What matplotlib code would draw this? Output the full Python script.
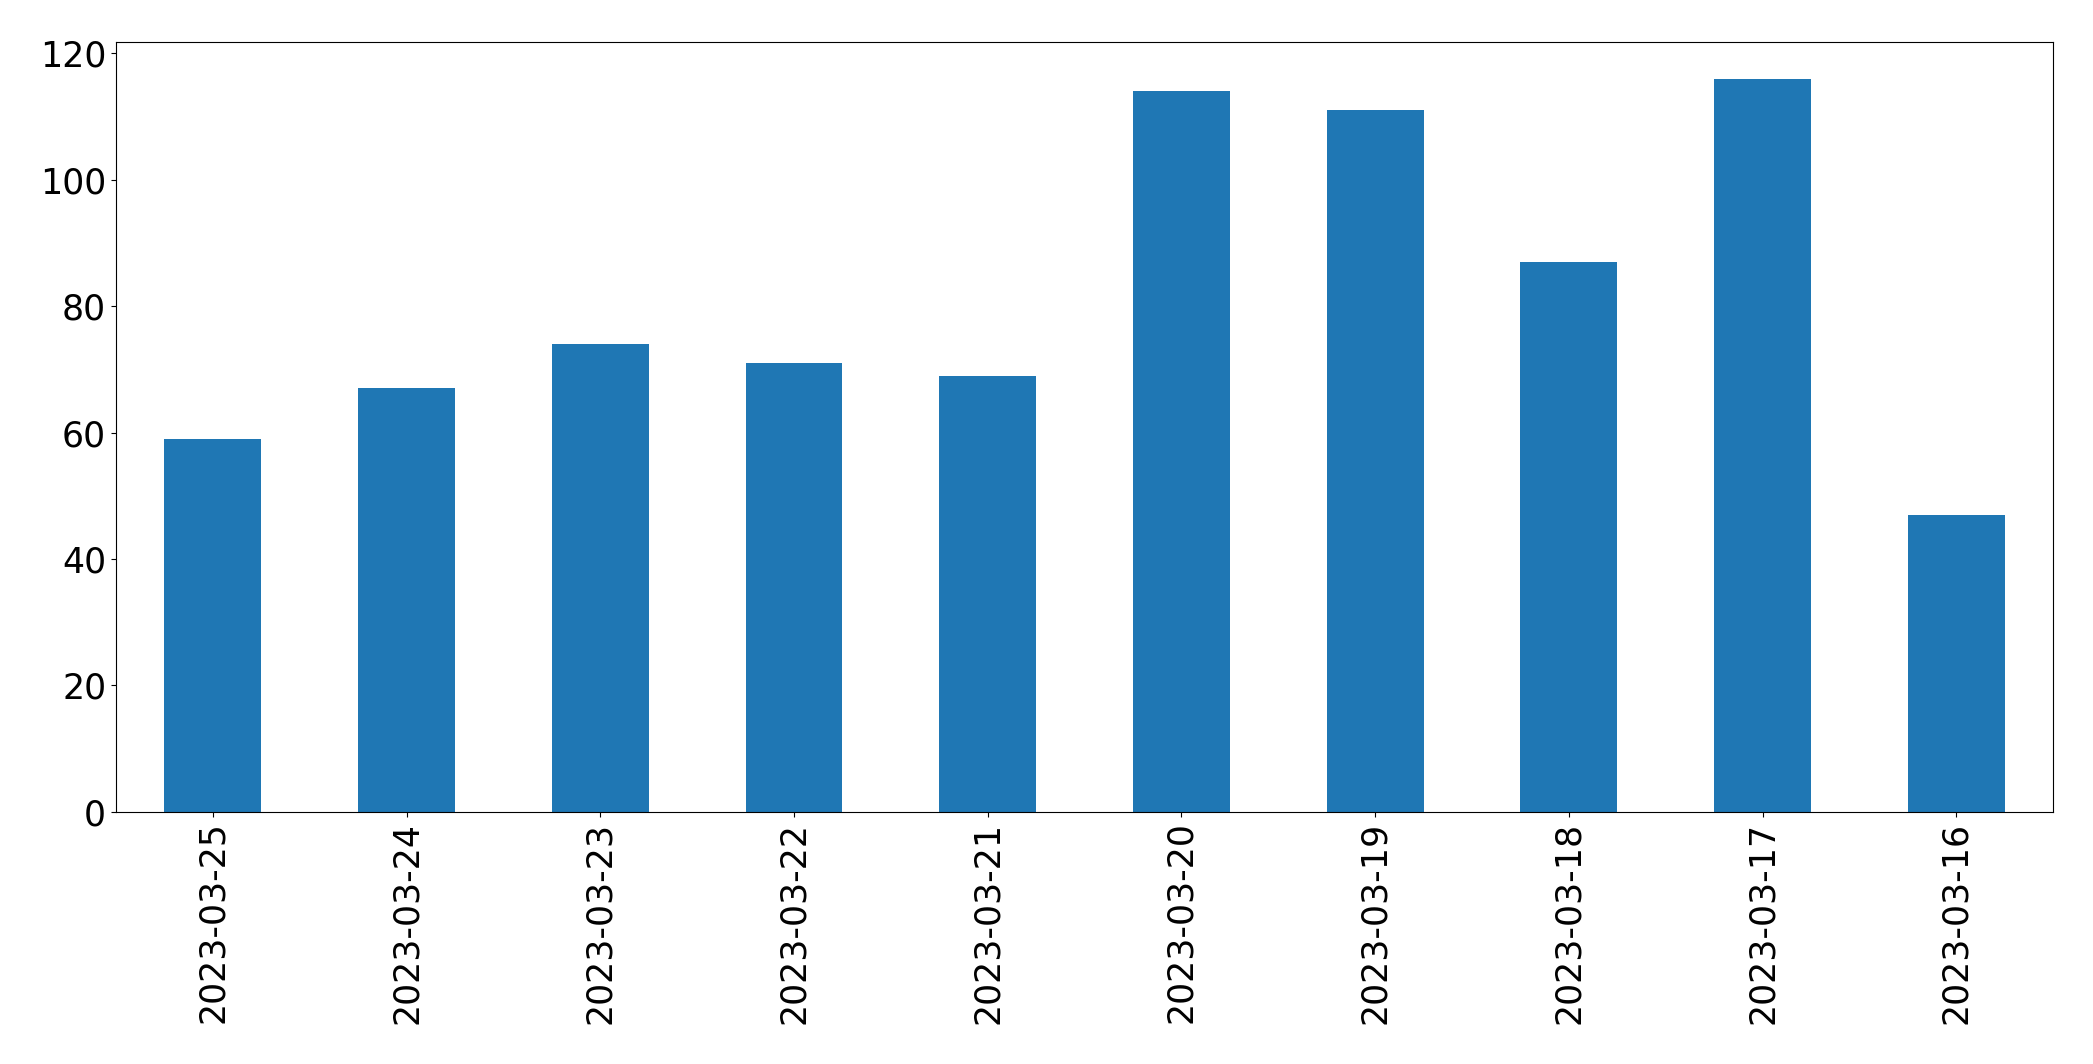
import matplotlib
matplotlib.use("Agg")
import matplotlib.pyplot as plt

dates = ["2023-03-25", "2023-03-24", "2023-03-23", "2023-03-22", "2023-03-21",
         "2023-03-20", "2023-03-19", "2023-03-18", "2023-03-17", "2023-03-16"]
counts = [59, 67, 74, 71, 69, 114, 111, 87, 116, 47]

fig = plt.figure(figsize=(20.93, 10.64), dpi=100)
ax = fig.add_axes([0.0554, 0.237, 0.9256, 0.7235])
x = list(range(len(dates)))
ax.bar(x, counts, width=0.5, color="#1f77b4")
ax.set_xlim(-0.5, len(dates) - 0.5)
ax.set_ylim(0, max(counts) * 1.05)
ax.set_xticks(x)
ax.set_xticklabels(dates, rotation=90)
ax.tick_params(axis="both", labelsize=25)
fig.savefig("out.png", dpi=100)
